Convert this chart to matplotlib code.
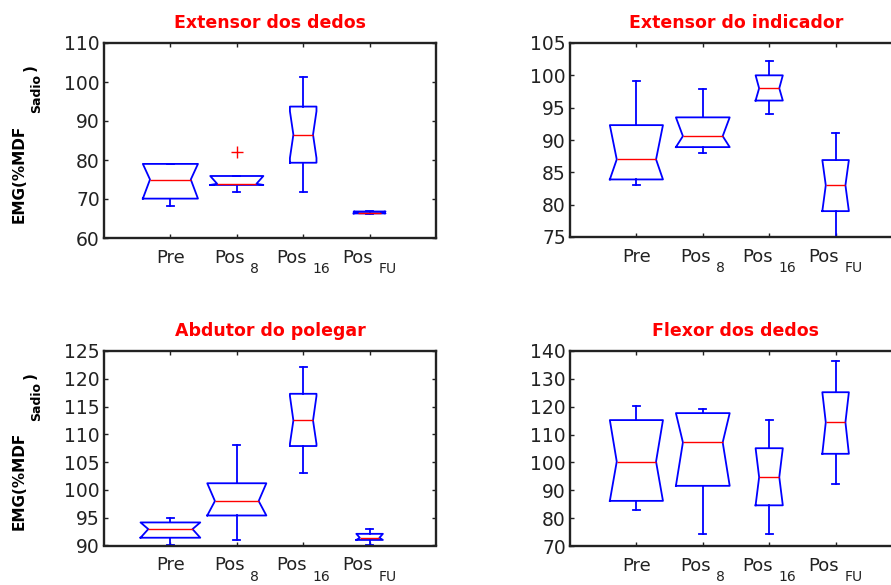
import matplotlib
matplotlib.use('Agg')
import matplotlib.pyplot as plt
from matplotlib.transforms import offset_copy

plt.rcParams['font.family'] = ['DejaVu Sans']

# x categories (main text + subscript)
groups = ['Pre', 'Pos', 'Pos', 'Pos']
group_subs = ['', '8', '16', 'FU']

titles = ['Extensor dos dedos', 'Extensor do indicador',
          'Abdutor do polegar', 'Flexor dos dedos']

# per group: whisker low, q1, median, q3, whisker high
ext_dedos = [(68.1, 70.1, 75.0, 79.0, 79.0), (71.8, 73.6, 73.9, 75.9, 75.9),
             (71.8, 79.3, 86.5, 93.7, 101.2), (66.2, 66.3, 66.5, 66.8, 67.0)]
ext_dedos_notch = [(70.1, 79.0), (73.6, 75.9), (80.5, 92.5), (66.3, 66.8)]
ext_dedos_out = [[], [82.0], [], []]

ext_indicador = [(83.0, 83.9, 87.0, 92.3, 99.1), (88.0, 88.9, 90.6, 93.5, 97.9),
                 (94.0, 96.1, 98.0, 100.0, 102.2), (75.0, 79.0, 83.0, 86.9, 91.1)]
ext_indicador_notch = [(83.9, 92.3), (88.9, 93.5), (96.1, 100.0), (79.0, 86.9)]
ext_indicador_out = [[], [], [], []]

abd_polegar = [(90.0, 91.4, 92.95, 94.15, 94.95), (91.0, 95.4, 98.0, 101.2, 108.0),
               (103.0, 107.9, 112.5, 117.3, 122.1), (90.0, 91.0, 91.4, 92.1, 92.95)]
abd_polegar_notch = [(91.4, 94.15), (95.4, 101.2), (108.3, 116.9), (91.0, 92.1)]
abd_polegar_out = [[], [], [], []]

flex_dedos = [(83.0, 86.2, 100.3, 115.2, 120.4), (74.2, 91.6, 107.2, 117.7, 119.3),
              (74.2, 84.6, 94.7, 105.1, 115.2), (92.4, 103.1, 114.4, 125.2, 136.5)]
flex_dedos_notch = [(86.2, 115.2), (91.6, 117.7), (84.6, 105.1), (103.1, 125.2)]
flex_dedos_out = [[], [], [], []]

yticks = [[60, 70, 80, 90, 100, 110],
          [75, 80, 85, 90, 95, 100, 105],
          [90, 95, 100, 105, 110, 115, 120, 125],
          [70, 80, 90, 100, 110, 120, 130, 140]]

panels = [(ext_dedos, ext_dedos_notch, ext_dedos_out),
          (ext_indicador, ext_indicador_notch, ext_indicador_out),
          (abd_polegar, abd_polegar_notch, abd_polegar_out),
          (flex_dedos, flex_dedos_notch, flex_dedos_out)]

# box widths as drawn in each panel
box_widths = [[0.83, 0.80, 0.40, 0.48],
              [0.80, 0.81, 0.41, 0.40],
              [0.90, 0.89, 0.40, 0.40],
              [0.80, 0.81, 0.41, 0.40]]
notch_frac = 0.74

W, H = 891, 585
# left, top, width, height in pixels
rects = [(104, 43, 332, 195), (570, 43, 332, 194),
         (104, 351, 332, 194.5), (570, 351, 332, 195)]

dark = '#222222'
fig = plt.figure(figsize=(W / 100, H / 100), dpi=100)

label_pairs = []
for k, (rows, notches, outs) in enumerate(panels):
    l, t, w, h = rects[k]
    ax = fig.add_axes([l / W, 1 - (t + h) / H, w / W, h / H])

    stats = []
    for (lo, q1, med, q3, hi), (cl, ch), fl in zip(rows, notches, outs):
        stats.append(dict(whislo=lo, q1=q1, med=med, q3=q3, whishi=hi,
                          cilo=cl, cihi=ch, fliers=fl))
    pos = list(range(1, len(stats) + 1))
    res = ax.bxp(stats, positions=pos, widths=box_widths[k], shownotches=True,
                 manage_ticks=False, capwidths=0.1,
                 boxprops=dict(color='#0000ff', lw=1.3),
                 whiskerprops=dict(color='#0000ff', lw=1.3, ls='-'),
                 capprops=dict(color='#0000ff', lw=1.3),
                 medianprops=dict(color='#ff0000', lw=1.0),
                 flierprops=dict(marker='+', markeredgecolor='#ff0000',
                                 markersize=8, markeredgewidth=1.0))
    # narrower notch like the original figure
    for p, bw, box, medl in zip(pos, box_widths[k], res['boxes'], res['medians']):
        xs = list(box.get_xdata())
        xs[3] = p + bw * notch_frac / 2
        xs[8] = p - bw * notch_frac / 2
        box.set_xdata(xs)
        medl.set_xdata([xs[8], xs[3]])

    ax.set_xlim(0, 5)
    ax.set_ylim(yticks[k][0], yticks[k][-1])
    ax.set_yticks(yticks[k])
    ax.set_xticks(pos)
    ax.set_xticklabels([''] * len(pos))
    ax.tick_params(direction='in', length=3, width=1.0, top=True, right=True,
                   labelsize=13.5, labelcolor=dark, colors=dark, pad=3)
    for s in ax.spines.values():
        s.set_linewidth(1.7)
        s.set_color(dark)
    ax.set_title(titles[k], color='#ff0000', fontweight='bold', fontsize=12.5,
                 pad=10.5)

    trans = ax.get_xaxis_transform()
    for p, g, sub in zip(pos, groups, group_subs):
        tm = ax.text(p, -0.128, g, transform=trans, ha='left', va='baseline',
                     fontsize=13, color=dark)
        ts = ax.text(p, -0.18, sub, transform=trans, ha='left', va='baseline',
                     fontsize=10, color=dark)
        label_pairs.append((ax, p, tm, ts, sub))

    if k % 2 == 0:
        ax.text(-0.255, 0.078, 'EMG(%MDF', transform=ax.transAxes, rotation=90,
                ha='center', va='bottom', fontsize=11, fontweight='bold')
        ax.text(-0.203, 0.64, 'Sadio', transform=ax.transAxes, rotation=90,
                ha='center', va='bottom', fontsize=9, fontweight='bold')
        ax.text(-0.222, 0.855, ')', transform=ax.transAxes, rotation=90,
                ha='center', va='bottom', fontsize=11, fontweight='bold')

# center "main + subscript" under each tick
fig.canvas.draw()
r = fig.canvas.get_renderer()
for ax, p, tm, ts, sub in label_pairs:
    wm = tm.get_window_extent(r).width
    ws = ts.get_window_extent(r).width if sub else 0
    gap = 5 if sub else 0
    total = wm + gap + ws
    base = ax.get_xaxis_transform()
    tm.set_transform(offset_copy(base, fig, x=-total / 2, y=0, units='dots'))
    ts.set_transform(offset_copy(base, fig, x=-total / 2 + wm + gap, y=0,
                                 units='dots'))

fig.savefig('out.png', dpi=100)
